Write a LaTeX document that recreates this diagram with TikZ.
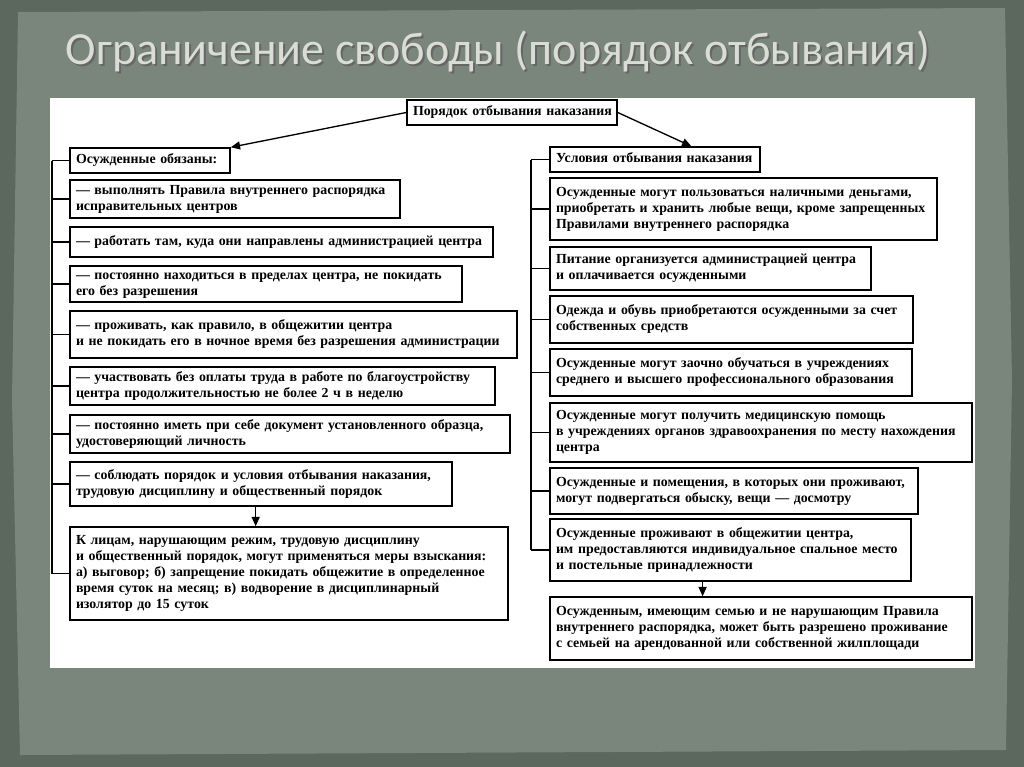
\documentclass[tikz,border=0pt]{standalone}
\usepackage{fontspec}
\setmainfont{Liberation Serif}
\newfontfamily\titlefont{Carlito}
\usetikzlibrary{arrows.meta}
\definecolor{bgdark}{HTML}{5C675D}
\definecolor{bgpaper}{HTML}{7A867B}
\definecolor{titlec}{HTML}{D9DDD6}
\tikzset{
  box/.style={draw=black, line width=1.1pt, fill=white, inner sep=0pt, align=left,
    font=\fontsize{10.4}{12.8}\selectfont\bfseries, anchor=center},
  link/.style={line width=1pt},
  arr/.style={line width=1pt, -{Triangle[length=7pt,width=6pt]}}
}
\newcommand{\bx}[6]{%
  \pgfmathsetmacro{\bw}{(#4-#2)*0.75}%
  \pgfmathsetmacro{\bh}{(#5-#3)*0.75}%
  \pgfmathsetmacro{\tw}{(#4-#2)*0.75-9}%
  \node[box, minimum width=\bw pt, minimum height=\bh pt, text width=\tw pt] (#1) at ({(#2+#4)/2},{(#3+#5)/2}) {\renewcommand{\arraystretch}{0.93}\begin{tabular}{@{}l@{}}#6\end{tabular}};}
\begin{document}
\begin{tikzpicture}[x=0.75pt,y=-0.75pt]
\useasboundingbox (0,0) rectangle (1024,767);
\fill[bgdark] (0,0) rectangle (1024,767);
\fill[bgpaper] (18,12) -- (1005,8) -- (1012,380) -- (1006,750) -- (20,755) -- (12,400) -- cycle;
\node[font=\titlefont\fontsize{34.5}{38}\selectfont, text=black!60, anchor=west] at (63,53) {Ограничение свободы (порядок отбывания)};
\node[font=\titlefont\fontsize{34.5}{38}\selectfont, text=titlec, anchor=west] (title) at (61,51) {Ограничение свободы (порядок отбывания)};
\fill[white] (50,98) rectangle (975,668);

\bx{top}{407}{100}{617}{125}{Порядок отбывания наказания}
\bx{L0}{70}{148}{230}{173}{Осужденные обязаны:}
\bx{L1}{70}{180}{400}{218}{— выполнять Правила внутреннего распорядка\\исправительных центров}
\bx{L2}{70}{227}{493}{257}{— работать там, куда они направлены администрацией центра}
\bx{L3}{70}{266}{462}{302}{— постоянно находиться в пределах центра, не покидать\\его без разрешения}
\bx{L4}{70}{311}{517}{358}{— проживать, как правило, в общежитии центра\\и не покидать его в ночное время без разрешения администрации}
\bx{L5}{70}{367}{495}{405}{— участвовать без оплаты труда в работе по благоустройству\\центра продолжительностью не более 2 ч в неделю}
\bx{L6}{70}{415}{510}{453}{— постоянно иметь при себе документ установленного образца,\\удостоверяющий личность}
\bx{L7}{70}{462}{452}{506}{— соблюдать порядок и условия отбывания наказания,\\трудовую дисциплину и общественный порядок}
\bx{L8}{70}{527}{508}{620}{К лицам, нарушающим режим, трудовую дисциплину\\и общественный порядок, могут применяться меры взыскания:\\а) выговор; б) запрещение покидать общежитие в определенное\\время суток на месяц; в) водворение в дисциплинарный\\изолятор до 15 суток}

\bx{R0}{550}{147}{760}{172}{Условия отбывания наказания}
\bx{R1}{550}{178}{937}{240}{Осужденные могут пользоваться наличными деньгами,\\приобретать и хранить любые вещи, кроме запрещенных\\Правилами внутреннего распорядка}
\bx{R2}{550}{247}{871}{290}{Питание организуется администрацией центра\\и оплачивается осужденными}
\bx{R3}{550}{296}{913}{343}{Одежда и обувь приобретаются осужденными за счет\\собственных средств}
\bx{R4}{550}{349}{912}{396}{Осужденные могут заочно обучаться в учреждениях\\среднего и высшего профессионального образования}
\bx{R5}{550}{403}{972}{462}{Осужденные могут получить медицинскую помощь\\в учреждениях органов здравоохранения по месту нахождения\\центра}
\bx{R6}{550}{468}{918}{514}{Осужденные и помещения, в которых они проживают,\\могут подвергаться обыску, вещи — досмотру}
\bx{R7}{550}{519}{911}{581}{Осужденные проживают в общежитии центра,\\им предоставляются индивидуальное спальное место\\и постельные принадлежности}
\bx{R8}{550}{597}{972}{660}{Осужденным, имеющим семью и не нарушающим Правила\\внутреннего распорядка, может быть разрешено проживание\\с семьей на арендованной или собственной жилплощади}

\coordinate (lv) at (52,0);
\coordinate (rv) at (531,0);
\draw[link] (L0.west -| lv) -- (L8.west -| lv);
\foreach \n in {L0,L1,L2,L3,L4,L5,L6,L7,L8} \draw[link] (\n.west -| lv) -- (\n.west);
\draw[link] (R0.west -| rv) -- (R7.west -| rv);
\foreach \n in {R0,R1,R2,R3,R4,R5,R6,R7} \draw[link] (\n.west -| rv) -- (\n.west);

\draw[arr] (top.west) -- (L0.north east);
\draw[arr] (top.east) -- ([xshift=-52pt]R0.north east);
\draw[arr] ([xshift=-4pt]L7.south) -- ([xshift=-4pt]L7.south |- L8.north);
\draw[arr] ([xshift=115pt]R7.south west) -- ([xshift=115pt]R7.south west |- R8.north);
\end{tikzpicture}
\end{document}
